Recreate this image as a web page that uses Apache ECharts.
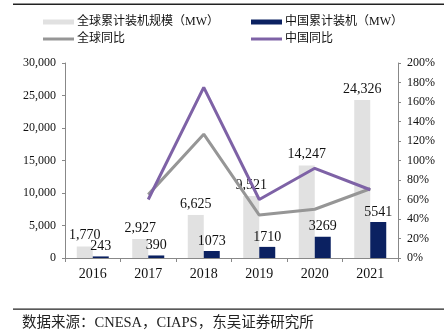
<!DOCTYPE html>
<html><head><meta charset="utf-8">
<script src="https://cdn.jsdelivr.net/npm/echarts@6/dist/echarts.min.js"></script>
<style>html,body{margin:0;padding:0;background:#fff}#c{width:444px;height:335px}</style>
</head><body><div id="c"></div>
<script>
var categories = ['2016','2017','2018','2019','2020','2021'];
var globalCap = [1770, 2927, 6625, 9521, 14247, 24326];
var chinaCap = [243, 390, 1073, 1710, 3269, 5541];
var globalYoY = [null, 65, 127, 44, 50, 71];
var chinaYoY = [null, 60, 175, 60, 92, 70];
var globalCapLabels = ['1,770','2,927','6,625','9,521','14,247','24,326'];
var chinaCapLabels = ['243','390','1073','1710','3269','5541'];

var serif = '"Liberation Serif","Times New Roman","Noto Sans CJK SC",serif';
var cjk = '"Liberation Serif","Noto Sans CJK SC",serif';
var chart = echarts.init(document.getElementById('c'));
function leg(name, left, top, h){
  return {data:[name], left:left, top:top, icon:'rect', itemWidth:31, itemHeight:h, itemGap:0,
    padding:0, textStyle:{fontFamily:cjk, fontSize:12, color:'#111', padding:[0,0,0,-2]}, selectedMode:false};
}
chart.setOption({
  animation:false,
  textStyle:{fontFamily:serif},
  legend:[
    leg('全球累计装机规模（MW）',43,16,5),
    leg('中国累计装机（MW）',251,16,5),
    leg('全球同比',43,33,3),
    leg('中国同比',251,33,3)
  ],
  grid:{left:65,right:46,top:63,bottom:77,containLabel:false},
  xAxis:{type:'category',data:categories,
    axisLine:{lineStyle:{color:'#888'}},
    axisTick:{show:true,length:4,lineStyle:{color:'#888'}},
    axisLabel:{color:'#111',fontSize:14,fontFamily:serif,margin:9}},
  yAxis:[
    {type:'value',min:0,max:30000,interval:5000,
     axisLine:{show:true,lineStyle:{color:'#888'}},
     axisTick:{show:true,length:3,inside:false,lineStyle:{color:'#888'}},
     splitLine:{show:false},
     axisLabel:{color:'#111',fontSize:12,fontFamily:serif,margin:9,
       formatter:function(v){return v.toLocaleString('en-US');}}},
    {type:'value',min:0,max:200,interval:20,
     axisLine:{show:true,lineStyle:{color:'#888'}},
     axisTick:{show:true,length:3,lineStyle:{color:'#888'}},
     splitLine:{show:false},
     axisLabel:{color:'#111',fontSize:12,fontFamily:serif,margin:9,formatter:'{value}%'}}
  ],
  series:[
    {name:'全球累计装机规模（MW）',type:'bar',data:globalCap,barWidth:16,barGap:'0%',
     itemStyle:{color:'#e1e1e1'},
     label:{show:true,position:'top',distance:4,fontSize:14,fontFamily:serif,color:'#111',
       formatter:function(p){return globalCapLabels[p.dataIndex];}},z:2},
    {name:'中国累计装机（MW）',type:'bar',data:chinaCap,barWidth:16,
     itemStyle:{color:'#0b2161'},
     label:{show:true,position:'top',distance:3,fontSize:14,fontFamily:serif,color:'#111',
       formatter:function(p){return chinaCapLabels[p.dataIndex];}},z:2},
    {name:'全球同比',type:'line',yAxisIndex:1,data:globalYoY,symbol:'none',
     lineStyle:{color:'#969696',width:3},itemStyle:{color:'#969696'},z:3},
    {name:'中国同比',type:'line',yAxisIndex:1,data:chinaYoY,symbol:'none',
     lineStyle:{color:'#7e62a6',width:3},itemStyle:{color:'#7e62a6'},z:4}
  ],
  graphic:[
    {type:'rect',shape:{x:13,y:3.5,width:431,height:1.5},style:{fill:'#222'}},
    {type:'rect',shape:{x:13,y:308.5,width:431,height:1.2},style:{fill:'#222'}},
    {type:'text',left:22,top:315.5,style:{text:'数据来源：CNESA，CIAPS，东吴证券研究所',
      fontFamily:cjk,fontSize:14.5,fill:'#222'}}
  ]
});
</script></body></html>
